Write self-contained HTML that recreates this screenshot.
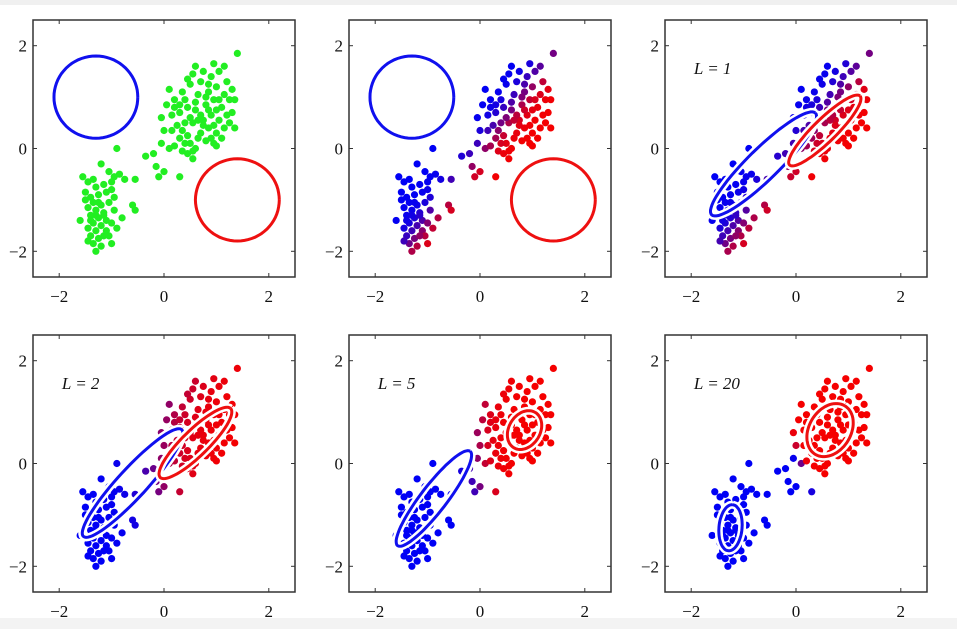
<!DOCTYPE html>
<html><head><meta charset="utf-8"><style>
html,body{margin:0;padding:0;background:#fff;}
svg{display:block;}
text{font-family:"Liberation Serif",serif;}
</style></head><body>
<svg id="fig" width="957" height="629" viewBox="0 0 957 629">
<rect x="0" y="0" width="957" height="5" fill="#f0f0f0"/>
<rect x="0" y="618" width="957" height="11" fill="#f3f3f3"/>
</svg>
<script>
const xTicks=[-2,0,2];
const yTicks=[-2,0,2];
const tickLabels=["\u22122","0","2"];
const panelLabels=["","","L = 1","L = 2","L = 5","L = 20"];
const lowerPts=[[-1.55,-0.55],[-1.45,-0.65],[-1.3,-0.75],[-1.15,-0.7],[-1.0,-0.65],[-0.85,-0.5],[-1.05,-0.45],[-0.95,-0.55],[-1.2,-0.3],[-1.5,-0.85],[-1.4,-0.95],[-1.25,-0.9],[-1.1,-0.85],[-0.95,-0.95],[-1.35,-1.05],[-1.2,-1.1],[-1.05,-1.05],[-1.45,-1.15],[-1.3,-1.2],[-1.15,-1.25],[-0.95,-1.2],[-1.4,-1.3],[-1.25,-1.35],[-1.1,-1.4],[-0.8,-1.35],[-1.6,-1.4],[-1.35,-1.45],[-1.2,-1.5],[-1.0,-1.45],[-1.45,-1.55],[-1.3,-1.6],[-1.1,-1.6],[-0.9,-1.55],[-1.4,-1.7],[-1.25,-1.75],[-1.05,-1.7],[-1.35,-1.85],[-1.2,-1.9],[-1.0,-1.85],[-1.3,-2.0],[-1.45,-1.8],[-1.15,-1.3],[-1.35,-0.6],[-1.5,-1.0],[-0.75,-0.6],[-1.0,-0.8],[-1.25,-1.05],[-1.4,-1.4],[-1.15,-1.7],[-1.3,-1.3]];
const bridgePts=[[-0.9,0.0],[-0.55,-0.6],[-0.6,-1.1],[-0.55,-1.2],[-0.35,-0.15],[-0.15,-0.35],[-0.1,-0.55],[0.0,-0.45],[0.3,-0.55],[-0.2,-0.1]];
const upperPts=[[-0.05,0.1],[0.1,0.0],[0.2,0.05],[0.35,-0.05],[0.45,-0.1],[0.55,-0.2],[0.6,0.0],[0.5,0.1],[0.3,0.2],[0.15,0.35],[0.0,0.35],[-0.05,0.6],[0.05,0.85],[0.1,1.15],[0.2,0.95],[0.3,0.7],[0.4,0.5],[0.45,0.8],[0.35,1.1],[0.5,1.25],[0.55,1.45],[0.6,1.6],[0.7,1.3],[0.65,1.05],[0.6,0.75],[0.55,0.5],[0.7,0.3],[0.75,0.55],[0.8,0.85],[0.85,1.1],[0.9,1.4],[0.95,1.65],[1.05,1.5],[1.0,1.2],[0.95,0.95],[0.9,0.65],[0.85,0.4],[0.8,0.15],[0.95,0.1],[1.0,0.3],[1.05,0.55],[1.1,0.8],[1.15,1.05],[1.2,1.3],[1.25,0.95],[1.2,0.65],[1.15,0.4],[1.3,0.7],[1.35,0.4],[1.4,1.85],[1.15,1.6],[0.75,1.5],[0.45,0.25],[0.25,0.45],[0.65,0.2],[1.0,0.05],[0.4,0.95],[0.15,0.65],[0.7,0.65],[0.6,0.9],[0.85,0.75],[0.5,0.6],[0.8,1.0],[1.0,0.75],[0.75,0.45],[0.35,0.35],[1.3,1.15],[0.9,0.2],[0.55,-0.05],[0.4,0.1],[1.1,0.2],[0.2,0.8],[0.45,1.35],[1.25,0.5],[0.95,0.45],[0.65,0.55],[0.3,0.85],[0.85,1.25],[1.05,0.95],[1.35,0.95]];
// components per panel: [cx, cy, a, b, angleDeg]
const blueComp=[[-1.3,1.0,0.8,0.8,0],[-1.3,1.0,0.8,0.8,0],[-0.62,-0.3,1.4,0.3,45],[-0.6,-0.38,1.4,0.28,48],[-0.88,-0.68,1.15,0.25,53],[-1.25,-1.25,0.45,0.22,85]];
const redComp=[[1.4,-1.0,0.8,0.8,0],[1.4,-1.0,0.8,0.8,0],[0.55,0.35,0.95,0.22,45],[0.6,0.4,0.95,0.25,45],[0.85,0.65,0.4,0.3,60],[0.65,0.65,0.55,0.4,60]];
const sharpness=[1,1.6,1.4,2,4,8];

const svg=document.getElementById('fig');
const NS='http://www.w3.org/2000/svg';
const colLeft=[33,349,665], rowTop=[20,335], PW=262, PH=257;
const pts=lowerPts.concat(bridgePts,upperPts);
function mk(tag,attrs,parent){const e=document.createElementNS(NS,tag);for(const k in attrs)e.setAttribute(k,attrs[k]);parent.appendChild(e);return e;}
function logpdf(p,c){const t=c[4]*Math.PI/180,dx=p[0]-c[0],dy=p[1]-c[1];
 const u=dx*Math.cos(t)+dy*Math.sin(t),v=-dx*Math.sin(t)+dy*Math.cos(t);
 const a=c[2]*0.5+0.4,b=c[3]*0.5+0.4;return -0.5*(u*u/(a*a)+v*v/(b*b))-Math.log(a*b);}
for(let i=0;i<6;i++){
 const L=colLeft[i%3], T=rowTop[Math.floor(i/3)];
 const sx=x=>L+(x+2.5)*PW/5, sy=y=>T+(2.5-y)*PH/5;
 const g=mk('g',{},svg);
 
 
 const pg=mk('g',{},g);
 
 
 pts.forEach(p=>{
  let col='#22ee22';
  if(i>0){const lb=logpdf(p,blueComp[i-1]),lr=logpdf(p,redComp[i-1]);
   const r=1/(1+Math.exp(sharpness[i]*(lb-lr)));
   col='rgb('+Math.round(245*r)+',0,'+Math.round(245*(1-r))+')';}
  const c=mk('circle',{cx:sx(p[0]),cy:sy(p[1]),r:3.6,fill:col},pg);
  
  
 });
 [[blueComp[i],'#1010ee','blue'],[redComp[i],'#ee1010','red']].forEach(([c,col,nm])=>{
  const t=c[4]*Math.PI/180;let d='';
  for(let k=0;k<=72;k++){const th=k/72*2*Math.PI,u=c[2]*Math.cos(th),v=c[3]*Math.sin(th);
   const x=c[0]+u*Math.cos(t)-v*Math.sin(t),y=c[1]+u*Math.sin(t)+v*Math.cos(t);
   d+=(k?'L':'M')+sx(x).toFixed(1)+' '+sy(y).toFixed(1);}
  if(i>=2){const w=mk('path',{d:d,fill:'none',stroke:'#fff','stroke-width':8},g);
   
   }
  const e=mk('path',{d:d,fill:'none',stroke:col,'stroke-width':3},g);
  
  
 });
 const f=mk('rect',{x:L,y:T,width:PW,height:PH,fill:'none',stroke:'#333','stroke-width':1.5},g);
 
 
 xTicks.forEach((v,k)=>{const x=sx(v);
  mk('line',{x1:x,y1:T+PH,x2:x,y2:T+PH-4,stroke:'#333'},g);mk('line',{x1:x,y1:T,x2:x,y2:T+4,stroke:'#333'},g);
  const tx=mk('text',{x:x,y:T+PH+25,'font-size':17,'text-anchor':'middle',fill:'#111'},g);tx.textContent=tickLabels[k];
  
  });
 yTicks.forEach((v,k)=>{const y=sy(v);
  mk('line',{x1:L,y1:y,x2:L+4,y2:y,stroke:'#333'},g);mk('line',{x1:L+PW,y1:y,x2:L+PW-4,y2:y,stroke:'#333'},g);
  const tx=mk('text',{x:L-6,y:y+6,'font-size':17,'text-anchor':'end',fill:'#111'},g);tx.textContent=tickLabels[k];
  
  });
 if(panelLabels[i]){const tx=mk('text',{x:sx(-1.95),y:sy(1.45),'font-size':17,'font-style':'italic',fill:'#111'},g);
  tx.textContent=panelLabels[i];
  
  }
}
</script>
</body></html>
